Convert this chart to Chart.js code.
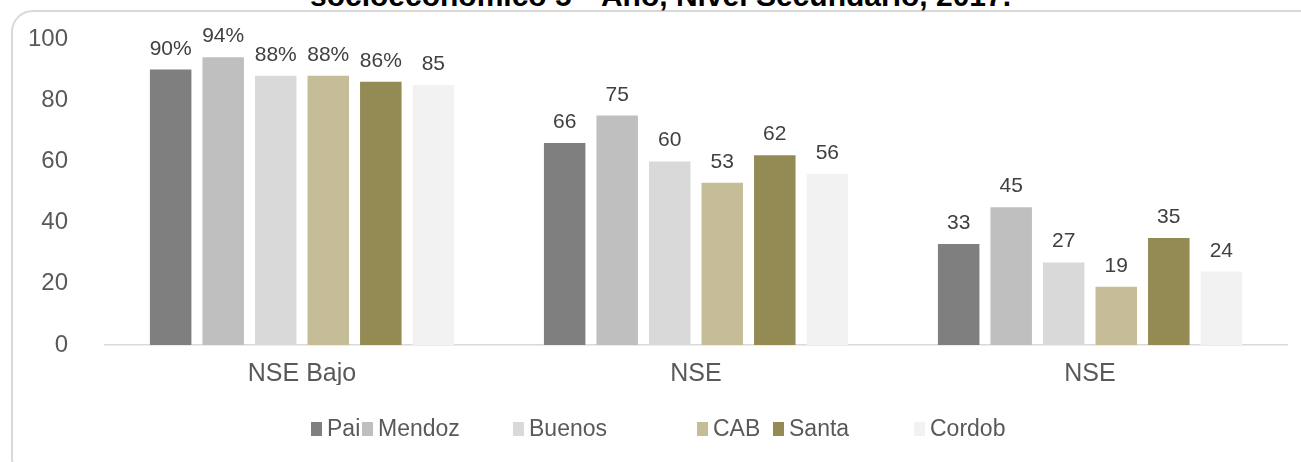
<!DOCTYPE html>
<html>
<head>
<meta charset="utf-8">
<script src="https://cdn.jsdelivr.net/npm/chart.js@4.4.0/dist/chart.umd.min.js"></script>
<style>
  body { margin: 0; width: 1301px; height: 462px; overflow: hidden; background: #fff; position: relative;
         font-family: "Liberation Sans", Arial, sans-serif; }
  #frame { position: absolute; left: 11px; top: 10px; width: 1320px; height: 470px;
           border: 2px solid #d9d9d9; border-radius: 22px; box-sizing: border-box; }
  #title { position: absolute; left: 10px; width: 1301px; top: -19px; text-align: center; font-weight: bold;
           font-size: 30px; line-height: 30px; color: #000; white-space: nowrap; }
  canvas { position: absolute; left: 0; top: 0; }
  .lg { position: absolute; top: 415px; font-size: 23px; line-height: 26px; color: #595959; white-space: nowrap; }
  .lg span { position: absolute; left: 0; top: 7px; width: 11px; height: 14px; }
  .lg b { position: absolute; left: 16px; top: 0; font-weight: normal; }
</style>
</head>
<body>
<div id="frame"></div>
<div id="title">socioeconómico 5°- Año, Nivel Secundario, 2017.</div>
<canvas id="chart1" width="1301" height="462"></canvas>
<div id="legend"></div>
<script>
// categorias y series
const categories = ['NSE Bajo', 'NSE', 'NSE'];
const seriesNames = ['Pai', 'Mendoz', 'Buenos', 'CAB', 'Santa', 'Cordob'];
const pai = [90, 66, 33];
const mendoz = [94, 75, 45];
const buenos = [88, 60, 27];
const cab = [88, 53, 19];
const santa = [86, 62, 35];
const cordob = [85, 56, 24];
// etiquetas con % solo en el primer grupo
const pctLabel = [true, true, true, true, true, false];
const yTicks = [0, 20, 40, 60, 80, 100];

const colors = ['#7f7f7f', '#bfbfbf', '#d9d9d9', '#c4bd97', '#948a54', '#f2f2f2'];
const legendX = [311, 362, 513, 697, 773, 914];
const allSeries = [pai, mendoz, buenos, cab, santa, cordob];

// leyenda
const legend = document.getElementById('legend');
seriesNames.forEach((name, i) => {
    const d = document.createElement('div');
    d.className = 'lg';
    d.style.left = legendX[i] + 'px';
    d.innerHTML = '<span style="background:' + colors[i] + '"></span><b>' + name + '</b>';
    legend.appendChild(d);
});

// etiquetas de valores sobre las barras
const valueLabels = {
    id: 'valueLabels',
    afterDatasetsDraw(chart) {
        const ctx = chart.ctx;
        ctx.save();
        ctx.font = '21px "Liberation Sans", Arial, sans-serif';
        ctx.fillStyle = '#404040';
        ctx.textAlign = 'center';
        ctx.textBaseline = 'alphabetic';
        chart.data.datasets.forEach((ds, i) => {
            chart.getDatasetMeta(i).data.forEach((bar, j) => {
                let txt = String(ds.data[j]);
                if (j === 0 && pctLabel[i]) txt += '%';
                ctx.fillText(txt, bar.x, bar.y - 15);
            });
        });
        ctx.restore();
    }
};

const ctx = document.getElementById('chart1').getContext('2d');
const chart1 = new Chart(ctx, {
    type: 'bar',
    data: {
        labels: categories,
        datasets: seriesNames.map((name, i) => ({
            label: name,
            data: allSeries[i],
            backgroundColor: colors[i],
            borderWidth: 0,
            categoryPercentage: 0.8,
            barPercentage: 0.79
        }))
    },
    options: {
        responsive: false,
        animation: false,
        layout: { padding: { left: 0, right: 14, top: 39, bottom: 77 } },
        scales: {
            x: {
                grid: { display: false, drawTicks: false },
                border: { display: true, color: '#d9d9d9', width: 1.5 },
                ticks: { color: '#595959', font: { size: 25, family: '"Liberation Sans", Arial' }, padding: 14 },
                afterFit: s => { s.height = 40; }
            },
            y: {
                min: 0, max: 100,
                afterBuildTicks: s => { s.ticks = yTicks.map(v => ({ value: v })); },
                grid: { display: false, drawTicks: false },
                border: { display: false },
                ticks: { color: '#595959', font: { size: 24, family: '"Liberation Sans", Arial' }, padding: 37 },
                afterFit: s => { s.width = 105; s.paddingTop = 0; s.paddingBottom = 0; }
            }
        },
        plugins: {
            legend: { display: false },
            tooltip: { enabled: false }
        }
    },
    plugins: [valueLabels]
});
</script>
</body>
</html>
